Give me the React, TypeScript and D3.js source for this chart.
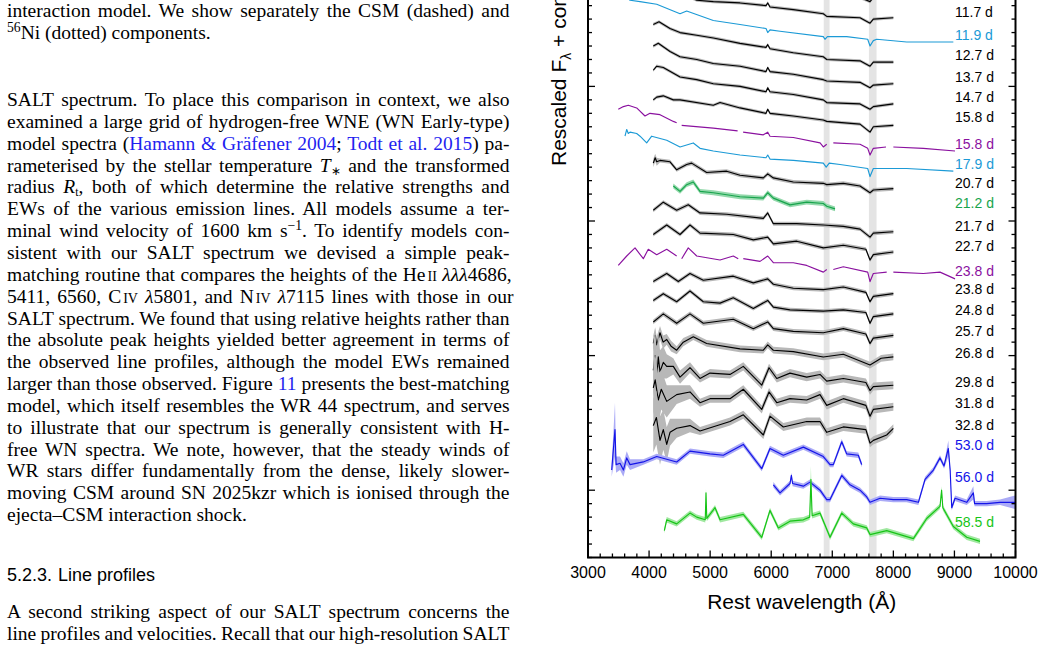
import React, { useEffect, useRef } from "react";
import * as d3 from "d3";

// [rest wavelength (Å), rescaled flux + constant, optional noise half-width]
type Pt = [number, number | null, number?];

const sEarly: Pt[] = [[4069, 3.94], [4163, 3.96], [4507, 3.87], [5052, 3.79], [5489, 3.78], [5915, 3.75], [5943, 3.78], [5980, 3.75], [6362, 3.72], [6853, 3.69], [6909, 3.68], [7454, 3.66], [7618, 3.63], [7672, 3.66], [8000, 3.66]];
const s11_7: Pt[] = [[4069, 3.78], [4163, 3.80], [4343, 3.73], [4507, 3.70], [4780, 3.64], [5052, 3.63], [5489, 3.62], [5915, 3.60], [5943, 3.62], [5980, 3.59], [6362, 3.57], [6853, 3.54], [6909, 3.52], [7454, 3.51], [7618, 3.47], [7672, 3.50], [8000, 3.51]];
const s11_9: Pt[] = [[3496, 3.70], [3600, 3.68], [3688, 3.64], [3852, 3.63], [4125, 3.61], [4507, 3.54], [4616, 3.56], [5052, 3.49], [5489, 3.46], [5915, 3.43], [5943, 3.40], [5980, 3.42], [6144, 3.41], [6853, 3.37], [6880, 3.35], [6920, 3.37], [7236, 3.37], [7580, 3.35], [7618, 3.30], [7672, 3.34], [7728, 3.35], [8219, 3.33], [8982, 3.33]];
const s12_7: Pt[] = [[4069, 3.46], [4163, 3.48], [4343, 3.43], [4507, 3.40], [4780, 3.38], [5052, 3.36], [5489, 3.32], [5915, 3.29], [5943, 3.31], [5980, 3.28], [6362, 3.25], [6853, 3.22], [6909, 3.20], [7454, 3.19], [7618, 3.15], [7672, 3.18], [8000, 3.18]];
const s13_7: Pt[] = [[4069, 3.30], [4151, 3.32], [4343, 3.26], [4507, 3.22], [4780, 3.20], [5052, 3.17], [5489, 3.15], [5915, 3.11], [5943, 3.14], [5980, 3.11], [6362, 3.09], [6853, 3.05], [6909, 3.04], [7454, 3.03], [7618, 2.99], [7672, 3.01], [8000, 3.02]];
const s14_7: Pt[] = [[4069, 3.12], [4125, 3.15], [4233, 3.14], [4507, 3.07], [4780, 3.05], [5052, 3.02], [5489, 3.00], [5915, 2.96], [5943, 2.99], [5980, 2.96], [6362, 2.94], [6853, 2.90], [6909, 2.88], [7454, 2.87], [7618, 2.83], [7672, 2.85], [8000, 2.87]];
const s15_8: Pt[] = [[4069, 2.90], [4125, 2.92], [4233, 2.93], [4397, 2.90], [4507, 2.90], [5052, 2.86], [5162, 2.88], [5489, 2.84], [5915, 2.80], [5943, 2.83], [5980, 2.80], [6362, 2.78], [6853, 2.75], [6909, 2.74], [7454, 2.72], [7618, 2.66], [7672, 2.70], [8000, 2.71]];
const s15_8p: Pt[] = [[3496, 2.83], [3580, 2.85], [3660, 2.86], [3797, 2.84], [3933, 2.78], [4015, 2.80], [4179, 2.79], [4397, 2.74], [4452, 2.73], [4490, null], [4534, 2.71], [5052, 2.69], [5450, 2.67], [5500, null], [5540, 2.66], [5871, 2.64], [5943, 2.66], [5980, 2.63], [6362, 2.62], [6800, 2.58], [6853, 2.55], [6909, 2.57], [6950, null], [7017, 2.58], [7454, 2.57], [7580, 2.54], [7618, 2.49], [7672, 2.54], [7880, 2.55], [7940, null], [8000, 2.55], [8491, 2.54], [9010, 2.52]];
const s17_9: Pt[] = [[3606, 2.63], [3634, 2.68], [3660, 2.65], [3688, 2.66], [3797, 2.65], [3852, 2.63], [3961, 2.58], [4043, 2.63], [4289, 2.60], [4507, 2.55], [4724, 2.58], [4834, 2.54], [5052, 2.52], [5489, 2.49], [5915, 2.47], [5943, 2.49], [5980, 2.46], [6362, 2.45], [6853, 2.43], [6900, 2.40], [6950, 2.43], [7127, 2.42], [7580, 2.39], [7618, 2.33], [7672, 2.39], [8219, 2.39], [8982, 2.37]];
const s20_7: Pt[] = [[4069, 2.43, 0.03], [4100, 2.47, 0.03], [4125, 2.44, 0.03], [4179, 2.45], [4343, 2.44], [4452, 2.38], [4616, 2.42], [4697, 2.43], [4943, 2.36], [5271, 2.37], [5489, 2.34], [5871, 2.32], [5943, 2.35], [6035, 2.32], [6362, 2.29], [6853, 2.28], [6909, 2.27], [7181, 2.28], [7454, 2.26], [7618, 2.21], [7672, 2.23], [8000, 2.24]];
const s21_2: Pt[] = [[4397, 2.26], [4507, 2.22], [4616, 2.27], [4724, 2.29], [4834, 2.22], [5052, 2.21], [5489, 2.18], [5871, 2.17], [5943, 2.21], [6035, 2.17], [6308, 2.12], [6581, 2.14], [6853, 2.13], [6909, 2.11], [7045, 2.09]];
const s21_7: Pt[] = [[4069, 2.08], [4233, 2.14], [4452, 2.08], [4642, 2.12], [4834, 2.06], [5271, 2.05], [5871, 2.02], [5943, 2.06], [6035, 1.98], [6418, 1.98], [6853, 1.97], [7181, 1.96], [7454, 1.94], [7618, 1.88], [7672, 1.91], [8000, 1.92]];
const s22_7: Pt[] = [[4069, 1.90], [4289, 1.97], [4507, 1.90], [4670, 1.97], [4834, 1.91], [5379, 1.90], [5707, 1.86], [5943, 1.88], [6035, 1.83], [6418, 1.85], [6853, 1.80], [7181, 1.82], [7550, 1.79], [7618, 1.71], [7672, 1.75], [8000, 1.77]];
const s23_8p: Pt[] = [[3496, 1.67], [3634, 1.74], [3770, 1.80], [3906, 1.72], [3987, 1.79], [4125, 1.75], [4289, 1.79], [4452, 1.74], [4490, null], [4534, 1.72], [4642, 1.80], [4780, 1.74], [5162, 1.71], [5379, 1.74], [5460, 1.72], [5500, null], [5543, 1.72], [5817, 1.70], [5943, 1.74], [6035, 1.69], [6362, 1.69], [6581, 1.67], [6853, 1.62], [6909, 1.64], [6960, null], [7017, 1.64], [7181, 1.66], [7580, 1.62], [7618, 1.55], [7672, 1.61], [7891, 1.62], [7950, null], [8000, 1.62], [8491, 1.61], [8764, 1.62], [9010, 1.57]];
const s23_8: Pt[] = [[4069, 1.55], [4289, 1.61], [4479, 1.55], [4670, 1.61], [4888, 1.56], [5379, 1.59], [5707, 1.54], [5943, 1.57], [6035, 1.53], [6362, 1.50], [6853, 1.49], [7181, 1.51], [7550, 1.47], [7618, 1.40], [7672, 1.44], [8000, 1.46]];
const s24_8: Pt[] = [[4069, 1.41], [4233, 1.46], [4452, 1.40], [4670, 1.48], [4888, 1.40], [5162, 1.39], [5379, 1.43], [5707, 1.35], [5943, 1.41], [6035, 1.36], [6308, 1.34], [6853, 1.33], [7181, 1.34], [7550, 1.32], [7618, 1.24], [7672, 1.29], [8000, 1.31]];
const s25_7: Pt[] = [[4069, 1.25], [4233, 1.31], [4452, 1.24], [4670, 1.31], [4888, 1.24], [5379, 1.27], [5707, 1.20], [5943, 1.25], [6035, 1.20], [6362, 1.18], [6853, 1.17], [7181, 1.20], [7550, 1.16], [7618, 1.09], [7672, 1.13], [8000, 1.15]];
const s26_8: Pt[] = [[4069, 1.09, 0.06], [4100, 1.15, 0.06], [4125, 1.08, 0.06], [4179, 1.17, 0.05], [4230, 1.10, 0.05], [4289, 1.12, 0.04], [4360, 1.07, 0.04], [4452, 1.04, 0.03], [4560, 1.10, 0.03], [4724, 1.14], [4943, 1.09], [5489, 1.05], [5871, 1.04], [5943, 1.08], [6035, 1.04], [6362, 1.03], [6853, 0.99], [7181, 1.01], [7618, 0.93], [7800, 0.98], [8000, 0.99]];
const s29_8: Pt[] = [[4069, 0.89, 0.2], [4100, 1.00, 0.2], [4125, 0.83, 0.2], [4151, 0.99, 0.18], [4179, 0.88, 0.16], [4233, 0.95, 0.12], [4289, 0.92, 0.09], [4397, 0.92, 0.06], [4507, 0.84, 0.05], [4670, 0.91, 0.04], [4834, 0.83], [4998, 0.87], [5325, 0.86], [5543, 0.92], [5845, 0.78], [5964, 0.91], [6091, 0.83], [6308, 0.87], [6581, 0.84], [6799, 0.86], [6909, 0.81], [7181, 0.83], [7550, 0.80], [7618, 0.74], [7672, 0.77], [8000, 0.78]];
const s31_8: Pt[] = [[4069, 0.76, 0.2], [4100, 0.82, 0.2], [4151, 0.67, 0.18], [4200, 0.75, 0.15], [4289, 0.66, 0.12], [4452, 0.71, 0.07], [4670, 0.73, 0.05], [4834, 0.65], [4998, 0.68], [5325, 0.68], [5543, 0.75], [5845, 0.60], [5964, 0.73], [6091, 0.65], [6308, 0.68], [6581, 0.67], [6799, 0.71], [6909, 0.63], [7181, 0.68], [7550, 0.63], [7618, 0.55], [7672, 0.60], [8000, 0.62]];
const s32_8: Pt[] = [[4069, 0.48, 0.2], [4120, 0.54, 0.2], [4179, 0.37, 0.18], [4233, 0.45, 0.15], [4289, 0.34, 0.13], [4343, 0.43, 0.1], [4452, 0.46, 0.07], [4670, 0.48, 0.05], [4834, 0.44], [5325, 0.51], [5543, 0.56], [5871, 0.41], [5980, 0.55], [6198, 0.47], [6581, 0.51], [6799, 0.51], [6909, 0.43], [7181, 0.47], [7550, 0.45], [7618, 0.35], [7672, 0.37], [7891, 0.41], [8000, 0.46]];
const s53_0: Pt[] = [[3388, 0.15, 0.05], [3442, 0.45, 0.2], [3460, 0.19, 0.06], [3524, 0.20, 0.05], [3580, 0.15, 0.05], [3634, 0.24, 0.05], [3688, 0.19, 0.04], [3906, 0.21], [4125, 0.25], [4452, 0.21], [4670, 0.29], [4998, 0.27], [5216, 0.26], [5543, 0.34], [5845, 0.16], [5980, 0.31], [6198, 0.26], [6526, 0.32], [6853, 0.25], [6963, 0.19], [7017, 0.19], [7155, 0.36], [7236, 0.27], [7426, 0.26], [7482, 0.19]];
const s56_0: Pt[] = [[6035, 0.04], [6144, -0.02], [6308, 0.05], [6330, 0.11], [6350, 0.05], [6526, 0.03], [6635, 0.06], [6799, 0.00], [6909, -0.07], [6963, -0.07], [7155, 0.11], [7290, 0.04], [7454, 0.00], [7564, -0.05], [7618, -0.09], [7782, -0.06], [8000, -0.07], [8219, -0.07], [8410, -0.09], [8519, 0.08], [8655, 0.15], [8764, 0.24], [8830, 0.18], [8900, 0.31, 0.06], [8930, 0.15], [8956, -0.13], [9010, -0.06], [9201, -0.09], [9310, -0.02, 0.05], [9330, -0.10], [9528, -0.10], [9747, -0.09], [9992, -0.09, 0.05]];
const s58_5: Pt[] = [[4250, -0.30], [4289, -0.22], [4452, -0.25], [4670, -0.17], [4780, -0.20], [4920, -0.22], [4932, -0.02, 0.03], [4945, -0.21], [5080, -0.13], [5162, -0.22], [5543, -0.18], [5845, -0.35], [5980, -0.15], [6117, -0.28], [6308, -0.23], [6526, -0.22], [6630, -0.20], [6650, 0.08, 0.1], [6670, -0.19], [6799, -0.17], [6963, -0.35], [7155, -0.17], [7344, -0.25], [7564, -0.28], [7618, -0.33], [7891, -0.30], [8328, -0.36], [8546, -0.21], [8764, -0.12], [8790, 0.00, 0.03], [8810, -0.13], [8982, -0.27], [9201, -0.35], [9419, -0.38]];

const spectra = [sEarly, s11_7, s11_9, s12_7, s13_7, s14_7, s15_8, s15_8p, s17_9, s20_7, s21_2, s21_7, s22_7, s23_8p, s23_8, s24_8, s25_7, s26_8, s29_8, s31_8, s32_8, s53_0, s56_0, s58_5];
const labels = [null, "11.7 d", "11.9 d", "12.7 d", "13.7 d", "14.7 d", "15.8 d", "15.8 d", "17.9 d", "20.7 d", "21.2 d", "21.7 d", "22.7 d", "23.8 d", "23.8 d", "24.8 d", "25.7 d", "26.8 d", "29.8 d", "31.8 d", "32.8 d", "53.0 d", "56.0 d", "58.5 d"];
const labelLevels = [null, 3.55, 3.38, 3.23, 3.07, 2.92, 2.77, 2.57, 2.42, 2.285, 2.136, 1.965, 1.814, 1.629, 1.495, 1.341, 1.183, 1.022, 0.804, 0.65, 0.485, 0.336, 0.098, -0.236];

const K = "#000", CY = "#1b9ad6", PU = "#8a119f", GR = "#17a44c", BL = "#1414e8", LG = "#16c416";
const lineColours = [K, K, CY, K, K, K, K, PU, CY, K, GR, K, K, PU, K, K, K, K, K, K, K, BL, BL, LG];
const bandColours = ["#b8b8b8", "#b8b8b8", null, "#b8b8b8", "#b8b8b8", "#b8b8b8", "#b8b8b8", null, null, "#b8b8b8", "#93d8ab", "#b8b8b8", "#b8b8b8", null, "#b8b8b8", "#b8b8b8", "#b8b8b8", "#b8b8b8", "#b8b8b8", "#b8b8b8", "#b8b8b8", "#aaaaf6", "#aaaaf6", "#a0e8a0"];
const spreads = [0.012, 0.012, 0, 0.012, 0.012, 0.012, 0.012, 0, 0, 0.015, 0.018, 0.015, 0.015, 0, 0.015, 0.015, 0.018, 0.025, 0.03, 0.03, 0.03, 0.02, 0.02, 0.02];

// telluric absorption regions (Å)
const telluric = [[6860, 6955], [7600, 7725]];
const xTickLabels = [3000, 4000, 5000, 6000, 7000, 8000, 9000, 10000];

// page text; {a:..} link, {i:..} italic, {sup:..}/{sub:..}, {sc:..} small capitals
const para1 = [
  "interaction model. We show separately the CSM (dashed) and",
  "{sup:56}Ni (dotted) components.",
];
const para2 = [
  "SALT spectrum. To place this comparison in context, we also",
  "examined a large grid of hydrogen-free WNE (WN Early-type)",
  "model spectra ({a:Hamann & Gräfener 2004}; {a:Todt et al. 2015}) pa-",
  "rameterised by the stellar temperature {i:T}{sub:∗} and the transformed",
  "radius {i:R}{sub:t}, both of which determine the relative strengths and",
  "EWs of the various emission lines. All models assume a ter-",
  "minal wind velocity of 1600 km s{sup:−1}. To identify models con-",
  "sistent with our SALT spectrum we devised a simple peak-",
  "matching routine that compares the heights of the He{sc:II} {i:λλλ}4686,",
  "5411, 6560, C{sc:IV} {i:λ}5801, and N{sc:IV} {i:λ}7115 lines with those in our",
  "SALT spectrum. We found that using relative heights rather than",
  "the absolute peak heights yielded better agreement in terms of",
  "the observed line profiles, although the model EWs remained",
  "larger than those observed. Figure {a:11} presents the best-matching",
  "model, which itself resembles the WR 44 spectrum, and serves",
  "to illustrate that our spectrum is generally consistent with H-",
  "free WN spectra. We note, however, that the steady winds of",
  "WR stars differ fundamentally from the dense, likely slower-",
  "moving CSM around SN 2025kzr which is ionised through the",
  "ejecta–CSM interaction shock.",
];
const para3 = [
  "A second striking aspect of our SALT spectrum concerns the",
  "line profiles and velocities. Recall that our high-resolution SALT",
];

const SERIF = "'Liberation Serif', 'Times New Roman', serif";
const SANS = "'Liberation Sans', Arial, sans-serif";

const parse = (s: string) => {
  const out: { t: string; k: string }[] = [];
  const re = /\{(\w+):([^}]*)\}/g;
  let last = 0;
  let m: RegExpExecArray | null;
  while ((m = re.exec(s))) {
    if (m.index > last) out.push({ t: s.slice(last, m.index), k: "n" });
    out.push({ t: m[2], k: m[1] });
    last = re.lastIndex;
  }
  if (last < s.length) out.push({ t: s.slice(last), k: "n" });
  return out;
};

function textLine(g: any, str: string, x: number, y: number, justify: boolean, width: number, size: number) {
  const t = g.append("text").attr("x", x).attr("y", y)
    .attr("font-family", SERIF).attr("font-size", size).attr("fill", "#000");
  const parts = parse(str);
  let shift = 0;
  parts.forEach((p) => {
    const ts = t.append("tspan").text(p.t);
    let dy = 0;
    if (p.k === "sup") { dy = -7; ts.attr("font-size", size * 0.7); }
    if (p.k === "sub") { dy = 3; ts.attr("font-size", size * 0.6); }
    if (dy - shift !== 0) ts.attr("dy", dy - shift);
    shift = dy;
    if (p.k === "i") ts.attr("font-style", "italic");
    if (p.k === "a") ts.attr("fill", "#1f1ff0");
    if (p.k === "sc") ts.attr("font-size", size * 0.72).attr("dx", 2);
  });
  if (justify) {
    const len = t.node().getComputedTextLength();
    const spaces = (parts.map((p) => p.t).join("").match(/ /g) || []).length;
    if (spaces > 0) t.style("word-spacing", `${(width - len) / spaces}px`);
  }
}

export default function App() {
  const ref = useRef<SVGSVGElement>(null);

  useEffect(() => {
    const svg = d3.select(ref.current);
    svg.selectAll("*").remove();

    // ---- left column of text
    const tx = svg.append("g");
    const L = 7, W = 502.5, FS = 19.5, LH = 21.85;
    para1.forEach((s, i) => textLine(tx, s, L, 17 + i * LH, i < para1.length - 1, W, FS));
    para2.forEach((s, i) => textLine(tx, s, L, 106 + i * LH, i < para2.length - 1, W, FS));
    const h = tx.append("text").attr("x", L).attr("y", 581)
      .attr("font-family", SANS).attr("font-size", 18).attr("fill", "#000");
    h.append("tspan").text("5.2.3.");
    h.append("tspan").attr("dx", 6).text("Line profiles");
    para3.forEach((s, i) => textLine(tx, s, L, 617.7 + i * LH, true, W, FS));

    // ---- spectra panel
    const x = d3.scaleLinear().domain([3000, 10000]).range([588, 1015.5]);
    const y = d3.scaleLinear().domain([-0.5, 3]).range([557.5, 86.4]);
    const yTop = 4.1;
    const g = svg.append("g");

    g.selectAll("rect.tell").data(telluric).join("rect")
      .attr("x", (d) => x(d[0])).attr("width", (d) => x(d[1]) - x(d[0]))
      .attr("y", y(yTop)).attr("height", y(-0.5) - y(yTop))
      .attr("fill", "#e4e4e4");

    spectra.forEach((data, i) => {
      const band = bandColours[i];
      const spread = spreads[i];
      if (band) {
        const area = d3.area<Pt>()
          .defined((d) => d[1] != null)
          .x((d) => x(d[0]))
          .y0((d) => y((d[1] as number) - (d[2] ?? spread)))
          .y1((d) => y((d[1] as number) + (d[2] ?? spread)));
        g.append("path").attr("d", area(data)).attr("fill", band).attr("stroke", "none");
      }
      const line = d3.line<Pt>()
        .defined((d) => d[1] != null)
        .x((d) => x(d[0]))
        .y((d) => y(d[1] as number));
      g.append("path").attr("d", line(data)).attr("fill", "none")
        .attr("stroke", lineColours[i]).attr("stroke-width", 1.15)
        .attr("stroke-linejoin", "round");
      const lab = labels[i];
      if (lab) {
        g.append("text").attr("x", 955).attr("y", y(labelLevels[i] as number)).attr("dy", "0.35em")
          .attr("font-family", SANS).attr("font-size", 14).attr("fill", lineColours[i]).text(lab);
      }
    });

    // frame and ticks
    const ax = svg.append("g").attr("stroke", "#000");
    ax.append("rect").attr("x", x(3000)).attr("y", y(yTop)).attr("width", x(10000) - x(3000))
      .attr("height", y(-0.5) - y(yTop)).attr("fill", "none").attr("stroke-width", 2);
    d3.range(-5, 42).forEach((k) => {
      const len = k % 10 === 0 ? 7 : 4;
      const yy = y(k / 10);
      ax.append("line").attr("x1", x(3000)).attr("x2", x(3000) + len).attr("y1", yy).attr("y2", yy).attr("stroke-width", 1.3);
      ax.append("line").attr("x1", x(10000) - len).attr("x2", x(10000)).attr("y1", yy).attr("y2", yy).attr("stroke-width", 1.3);
    });
    d3.range(3000, 10001, 200).forEach((w) => {
      const len = w % 1000 === 0 ? 7 : 4;
      ax.append("line").attr("x1", x(w)).attr("x2", x(w)).attr("y1", y(-0.5)).attr("y2", y(-0.5) - len).attr("stroke-width", 1.3);
    });
    svg.append("g").selectAll("text").data(xTickLabels).join("text")
      .attr("x", (d) => x(d)).attr("y", 578).attr("text-anchor", "middle")
      .attr("font-family", SANS).attr("font-size", 16).attr("fill", "#000")
      .text((d) => String(d));

    svg.append("text").attr("x", x(6500)).attr("y", 609).attr("text-anchor", "middle")
      .attr("font-family", SANS).attr("font-size", 21).attr("fill", "#000")
      .text("Rest wavelength (Å)");

    const yt = svg.append("text").attr("transform", "translate(566,166) rotate(-90)")
      .attr("font-family", SANS).attr("font-size", 21).attr("fill", "#000");
    yt.append("tspan").text("Rescaled F");
    yt.append("tspan").attr("font-size", 14).attr("dy", 5).text("λ");
    yt.append("tspan").attr("dy", -5).text(" + constant");
  }, []);

  return (
    <svg ref={ref} width={1045} height={650}
      style={{ position: "absolute", left: 0, top: 0, background: "#fff" }} />
  );
}
